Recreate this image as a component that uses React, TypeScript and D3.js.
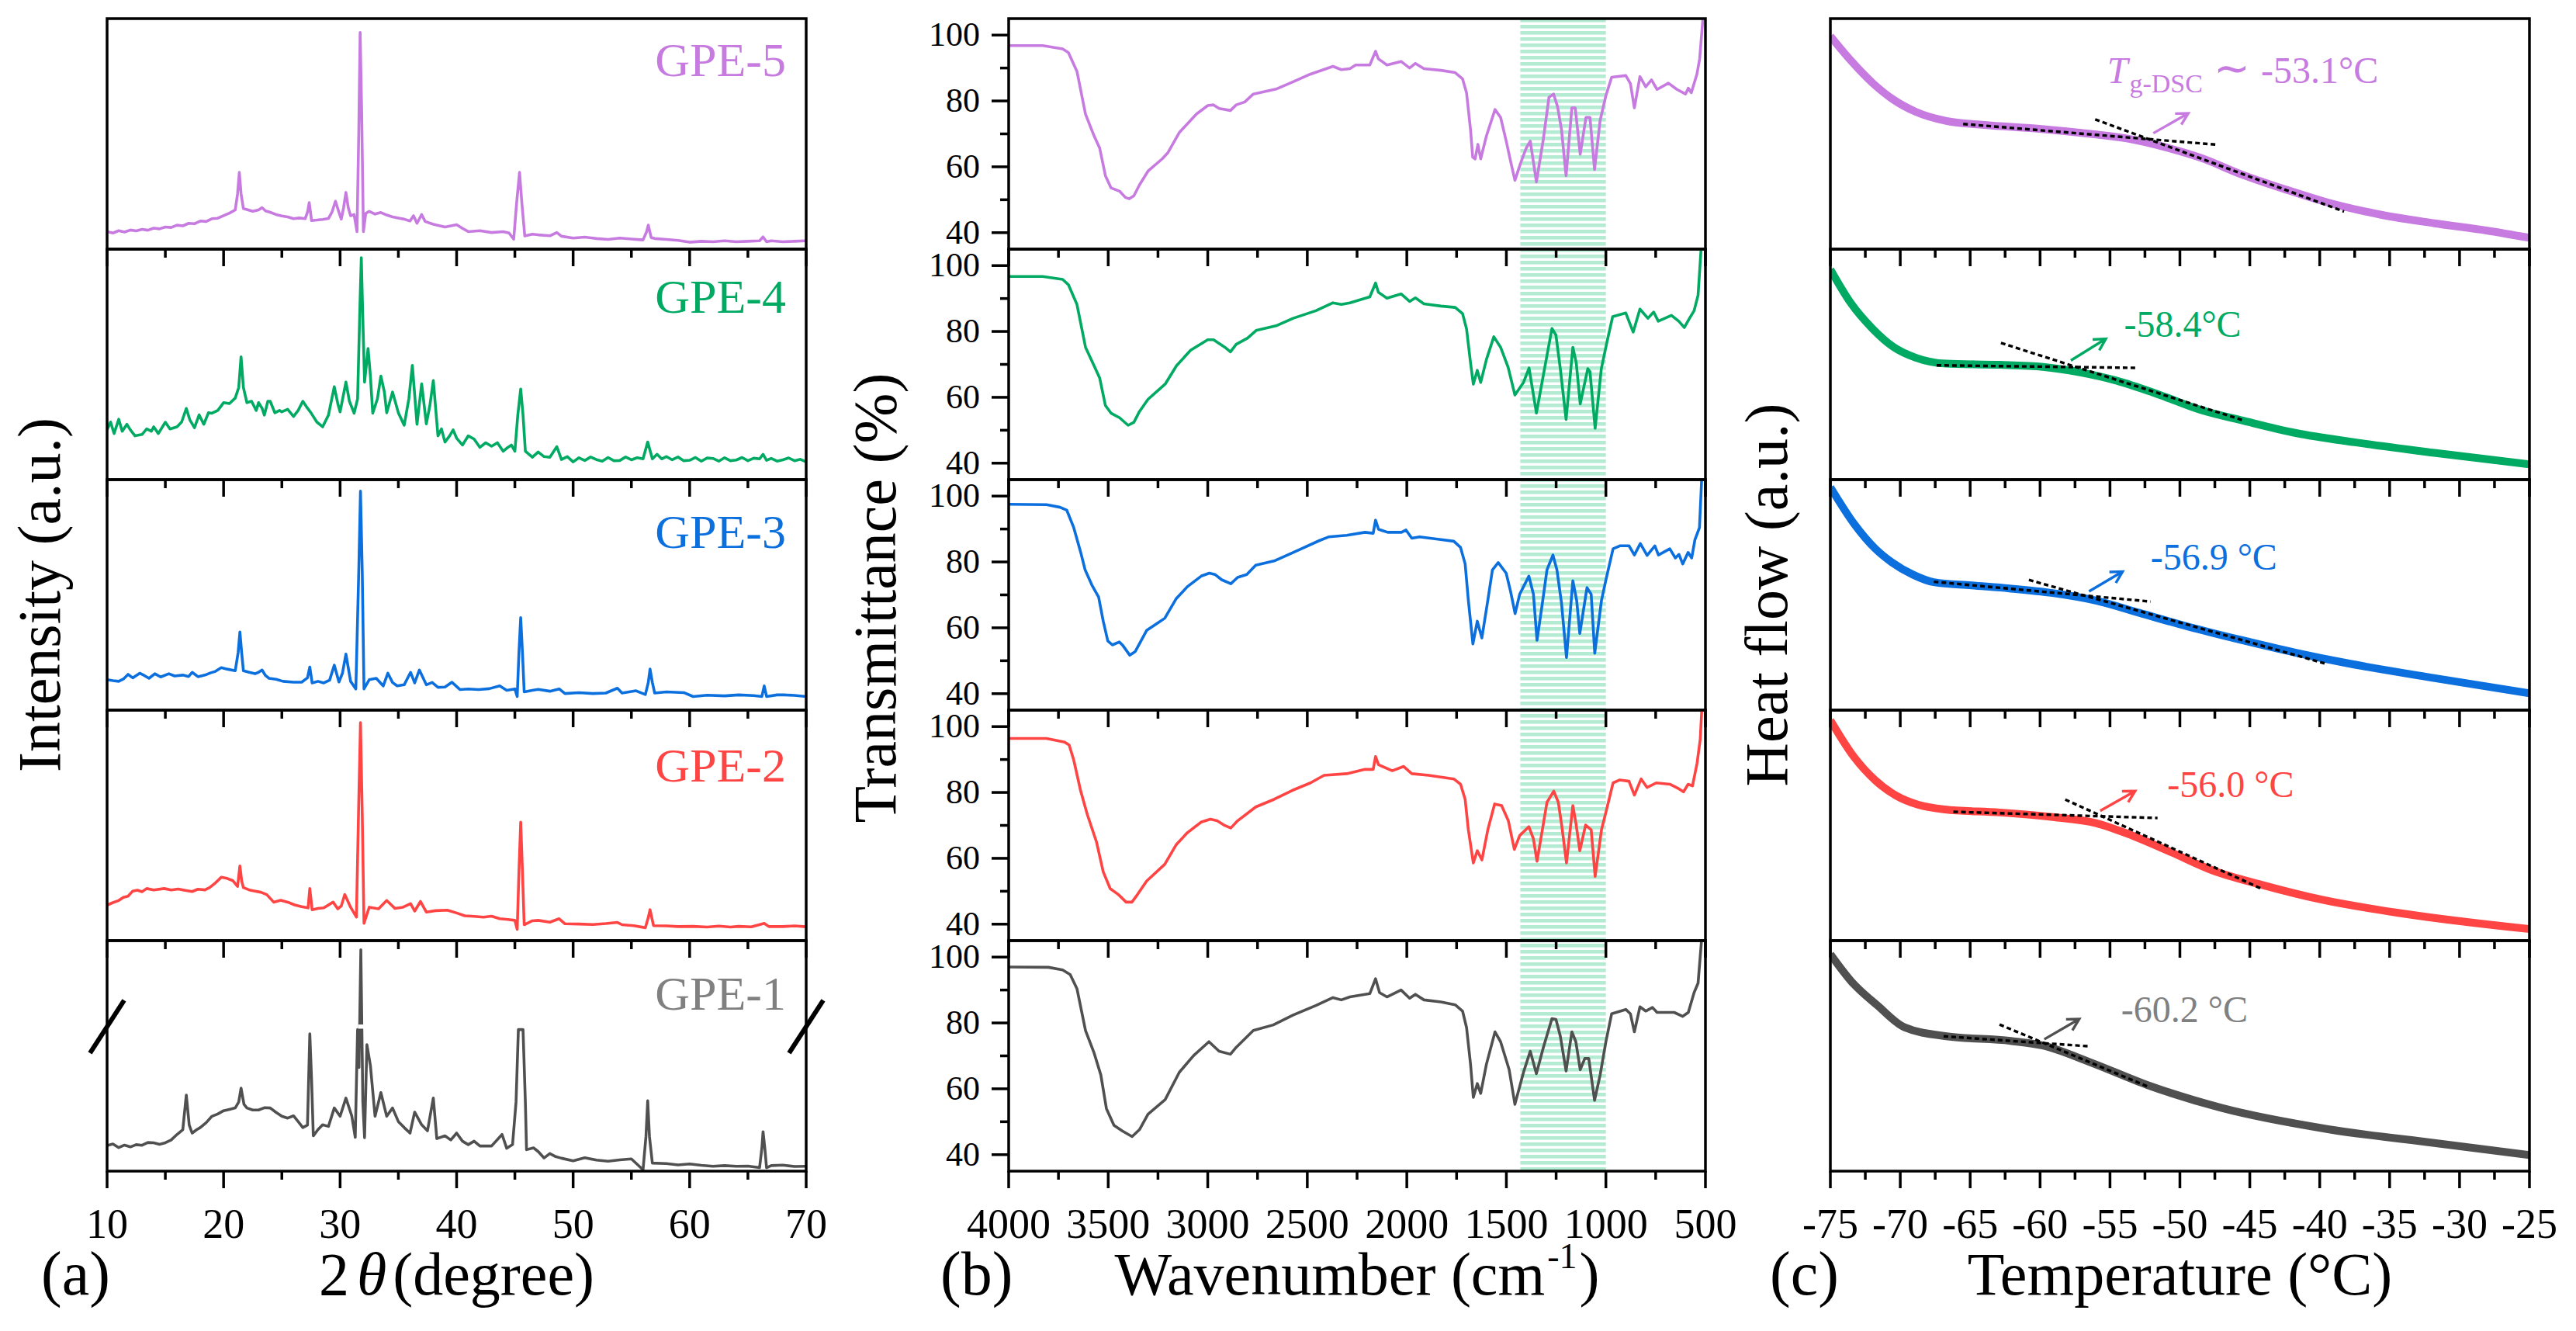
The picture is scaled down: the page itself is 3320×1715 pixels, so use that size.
import React from "react";
import * as d3 from "d3";

type Pt = [number, number];

// samples, top panel to bottom panel
const samples = ["GPE-5", "GPE-4", "GPE-3", "GPE-2", "GPE-1"];
const lineColors = ["#c77be0", "#00aa63", "#0b6fde", "#ff4444", "#505050"];
const textColors = ["#c77be0", "#00aa63", "#0b6fde", "#ff4444", "#808080"];

// ---------- (a) XRD, intensity in % of panel height ----------
const xrdGPE5: Pt[] = [[10,7.6],[10.5,7.0],[11,8.0],[11.5,7.4],[12,8.3],[12.5,7.9],[13,8.6],[13.5,8.2],[14,9.1],[14.5,8.8],[15,9.6],[15.5,9.4],[16,10.4],[16.5,10.1],[17,11.2],[17.5,11.0],[18,12.2],[18.5,12.0],[19,13.2],[19.5,13.4],[20,14.5],[20.5,15.6],[21,17.0],[21.2,24],[21.35,33.3],[21.5,24],[21.7,17.6],[22,17.2],[22.5,16.4],[23,17.0],[23.3,18.0],[23.6,16.6],[24,16.0],[24.5,15.0],[25,14.4],[25.5,14.0],[26,13.2],[26.5,13.5],[27,13.2],[27.2,16],[27.35,20.2],[27.55,12.4],[28,12.6],[28.5,12.9],[29,13.3],[29.3,16],[29.6,20.8],[29.9,16],[30.1,13],[30.3,18],[30.5,24.6],[30.7,18],[30.9,14.5],[31.2,15],[31.45,7.6],[31.6,50],[31.72,94],[31.85,60],[32.0,7.6],[32.2,15.5],[32.5,16.4],[33,15.2],[33.5,15.9],[34,14.8],[34.5,14.0],[35,13.5],[35.5,13.0],[36,12.2],[36.3,14.5],[36.6,11.2],[37,15.0],[37.3,12],[38,10.8],[38.5,10.2],[39,9.6],[39.6,10.2],[40,10.6],[40.5,9.0],[41,7.6],[42,8.0],[43,7.2],[44,7.6],[44.5,7.0],[44.9,4.3],[45.15,20],[45.4,33.3],[45.6,20],[45.85,5.7],[46.5,6.5],[47,6.2],[48,5.8],[48.6,7.2],[49,5.6],[50,4.8],[51,5.2],[52,4.6],[53,4.2],[54,4.8],[55,4.4],[56,4.0],[56.3,7.5],[56.45,10.4],[56.7,5],[57,4.6],[58,4.2],[59,3.8],[60,3.0],[61,3.4],[62,3.2],[63,3.6],[64,3.2],[65,3.4],[66,3.6],[66.3,5.3],[66.6,3.2],[67,3.6],[68,3.2],[69,3.4],[70,3.6]];
const xrdGPE4: Pt[] = [[10,21.6],[10.3,25],[10.6,20],[11,26.2],[11.3,21],[11.7,24],[12,21.6],[12.4,19],[13,19.6],[13.4,22],[13.8,21],[14,22.9],[14.4,20],[15,24.9],[15.4,22],[16,22.9],[16.4,25],[16.8,30.9],[17.1,26],[17.5,22.5],[17.9,28.1],[18.3,24],[18.7,29],[19,28.8],[19.5,30],[20,33.4],[20.5,33],[21,35.4],[21.3,40],[21.5,53.3],[21.7,40],[22,33.4],[22.4,34],[22.8,30],[23,33.4],[23.3,31],[23.5,28],[23.8,34],[24,34],[24.4,29],[24.8,30],[25,29.4],[25.5,30.5],[26,27.4],[26.4,30],[26.8,34],[27.2,31],[27.5,29],[28,25],[28.5,22.9],[29,28],[29.5,40.3],[29.8,33],[30.0,29.4],[30.5,42.3],[30.8,34],[31.2,28.8],[31.5,35],[31.7,75],[31.82,96.3],[31.95,70],[32.1,42.3],[32.4,56.9],[32.6,45],[32.8,28.8],[33.2,35],[33.5,44.9],[33.8,38],[34,29],[34.5,38],[35,29],[35.5,23.6],[35.9,35],[36.2,49.6],[36.6,24],[37,41.6],[37.4,24.2],[37.7,32],[38,43],[38.4,19],[38.7,22],[39,16.3],[39.4,19],[39.7,21.6],[40,18],[40.5,15],[41,19],[41.5,17.6],[42,14],[42.5,16],[43,14.5],[43.5,16],[44,12.3],[44.4,14],[44.7,15],[45.0,12.3],[45.25,28],[45.5,39.3],[45.7,28],[45.9,12.3],[46.5,9.7],[47,12],[47.5,10],[48,9.7],[48.6,14.3],[49,8.7],[49.5,10],[50,7.7],[50.5,9.5],[51,8.3],[51.5,9.8],[52,8.7],[52.5,8],[53,9.6],[53.5,8.2],[54,8.3],[54.5,9.8],[55,8.6],[55.5,9.5],[56,9],[56.4,16.3],[56.8,9],[57.2,11],[57.6,9],[58,10],[58.5,8.6],[59,9.8],[59.5,8.2],[60,8.4],[60.5,9.6],[61,8],[61.5,9.4],[62,9.2],[62.5,8],[63,9.5],[63.5,8.2],[64,8.5],[64.5,9.6],[65,8.2],[65.5,9.3],[66,9],[66.3,11],[66.6,8.4],[67,9.2],[67.5,8],[68,8.6],[68.5,9.4],[69,8.2],[69.5,8.8],[70,7.7]];
const xrdGPE3: Pt[] = [[10,13.2],[10.5,12.8],[11,12.5],[11.4,13.5],[11.8,15.5],[12.2,14],[12.8,16],[13.2,15],[13.6,13.8],[14.1,15.8],[14.6,14.4],[15.3,15.8],[15.8,14.8],[16.5,15.2],[17,14.6],[17.3,16.4],[17.8,14.5],[18.4,15.2],[18.9,16.2],[19.3,16.8],[19.8,18.4],[20.3,17.8],[21,17.1],[21.25,25],[21.4,33.9],[21.55,25],[21.7,17.1],[22.2,16.4],[22.7,15.8],[23,16.4],[23.3,17.4],[23.6,15],[23.9,13.8],[24.5,13.4],[25.1,12.5],[26,12.1],[26.7,12.1],[27.2,14],[27.4,18.7],[27.6,11.8],[28.1,12.5],[28.6,11.8],[29.1,13],[29.5,19.5],[29.9,12.2],[30.2,16],[30.5,24.3],[30.9,12.5],[31.35,9.2],[31.6,60],[31.75,95],[31.9,60],[32.05,9.2],[32.5,13.2],[33.1,13.8],[33.7,10.5],[34.1,16],[34.5,12],[34.9,10.5],[35.5,11],[36.05,16.4],[36.4,11.8],[36.8,17.4],[37.4,11],[37.9,12],[38.4,9.9],[39,10],[39.6,12.1],[40.3,8.9],[41,9.2],[41.9,8.9],[42.8,9.3],[43.7,10.5],[44.3,8.6],[45.0,9.2],[45.2,5.9],[45.35,25],[45.5,40.1],[45.65,25],[45.8,7.9],[46.5,8.6],[47,9],[48,8.2],[48.8,9.2],[49.3,7.2],[50.5,7.6],[51.7,7.2],[52.8,7.4],[53.8,9.5],[54.2,7.4],[55.4,8.4],[56.2,6.8],[56.45,12],[56.6,17.8],[56.8,12],[57,7.4],[58,7.9],[59.5,7.6],[60.3,5.9],[61.5,6.5],[63,6.2],[64.2,6.6],[65.5,6.3],[66.2,5.9],[66.4,10.5],[66.6,5.9],[67.5,6.6],[68.1,6.6],[69,6.4],[70,5.9]];
const xrdGPE2: Pt[] = [[10,15.4],[10.5,16.5],[11,17.4],[11.4,18.8],[11.8,19.3],[12.2,21.5],[12.6,21.9],[13,21.2],[13.4,22.6],[14,22],[14.9,22.6],[15.5,22],[16.1,22.4],[16.7,21.8],[17.3,21.3],[17.8,22.3],[18.4,22],[18.8,23],[19.2,24.6],[19.8,27.5],[20.3,27],[20.8,26],[21.2,23.5],[21.3,28],[21.4,32.4],[21.55,26],[21.7,23],[22.2,22],[22.7,21.5],[23.2,21],[23.7,20],[24.3,16.7],[24.9,17.5],[25.5,16.7],[26.1,15.5],[26.7,14.7],[27.25,14.2],[27.4,22.6],[27.6,13.4],[28.1,14],[28.6,14.2],[29.4,16.7],[29.8,13.8],[30.1,15],[30.4,20],[30.9,14.5],[31.4,10.2],[31.6,60],[31.75,94.6],[31.9,55],[32.05,7.5],[32.5,14.5],[33.3,13.8],[34,17.4],[34.7,14],[35.4,14.5],[36.05,16],[36.4,12.8],[36.9,17],[37.4,12.4],[38.2,13],[39.2,13.2],[40.0,12],[40.7,10.8],[41.5,10.5],[42.3,10.2],[43,10.6],[43.7,9.5],[44.4,9.2],[45,8.8],[45.2,4.9],[45.35,30],[45.5,51.4],[45.65,30],[45.8,6.9],[46.5,8.6],[47,8.8],[48,8],[48.8,9.5],[49.3,7.3],[50.5,7.2],[51.7,7],[52.8,7.4],[53.8,7.9],[54.2,6.9],[55.2,6.5],[56.2,5.6],[56.45,10],[56.6,13.4],[56.9,6.5],[58,6.4],[59,6.1],[60.3,6.2],[61.5,5.9],[62.5,6.3],[63.5,5.9],[64.2,6.2],[65.3,6],[66.4,7.5],[66.8,6.1],[68,6.1],[69,6.4],[70,6]];
const xrdGPE1: Pt[] = [[10,11.1],[10.5,11.8],[11,10.2],[11.5,11.3],[12,10.5],[12.5,11.5],[13,11.2],[13.5,12.4],[14,12.3],[14.5,11.6],[15,12.3],[15.5,13.5],[16,15.9],[16.5,18],[16.8,33],[17.05,20],[17.3,16.5],[17.7,18],[18,18.9],[18.5,21],[19,23.8],[19.5,24.8],[20,26.2],[20.5,26.8],[21,27.4],[21.3,30],[21.5,36],[21.75,29],[22,27.4],[22.5,26.5],[23,26.5],[23.5,27.5],[24,27.4],[24.5,25.5],[25,23.8],[25.5,23],[26,24],[26.4,21.5],[26.8,18.9],[27.2,20],[27.4,59.6],[27.55,40],[27.7,15.3],[28.1,18],[28.5,20.1],[29,19.4],[29.5,27.4],[30,23.8],[30.5,31.7],[31,24],[31.3,14.7],[31.5,61.4],[31.62,45],[31.78,96],[31.95,30],[32.1,14.5],[32.3,54.9],[32.6,45.8],[33,23.8],[33.5,34.1],[34,23.8],[34.5,27.4],[35,21.5],[35.5,18.9],[36,16.5],[36.4,25.6],[37,20.1],[37.5,17.5],[38,31.7],[38.3,14.1],[39,15.3],[39.5,13.5],[40,16.5],[40.5,13],[41,11.5],[41.5,13],[42,10.9],[43,10.9],[43.9,15.9],[44.3,9.9],[44.8,11.5],[45.1,30],[45.3,61.4],[45.7,61.4],[45.9,30],[46,9.3],[46.6,10.1],[47,8.5],[47.5,5.7],[48,7.6],[48.5,6.3],[49,5.6],[50,4.5],[51,5.8],[52,4.8],[53,4.3],[54,4.9],[55,5.3],[56,0.6],[56.25,15],[56.4,30.5],[56.55,15],[56.8,3.5],[58,3.3],[59,2.7],[60,3.1],[61,2.5],[62,2.1],[63,2.4],[64,2.1],[65,2.2],[66,1.5],[66.2,10],[66.3,17.1],[66.45,10],[66.6,1.5],[67,2.4],[68,2.6],[69,2.0],[70,2.1]];
const xrdSeries = [xrdGPE5, xrdGPE4, xrdGPE3, xrdGPE2, xrdGPE1];
const xrdTicks = [10, 20, 30, 40, 50, 60, 70];
const xrdBreak = 62.7; // axis break level in the GPE-1 panel

// ---------- (b) FTIR, transmittance (%) ----------
const ftirGPE5: Pt[] = [[4000,96.8],[3829,96.8],[3729,95.8],[3700,94.7],[3657,89],[3614,76],[3571,69.4],[3543,65.7],[3514,57.3],[3486,53.6],[3443,52.6],[3414,50.7],[3394,50.3],[3371,51.2],[3343,54.5],[3300,58.7],[3229,62.4],[3200,64.3],[3143,70.4],[3057,76],[3000,78.6],[2971,78.8],[2943,77.7],[2886,77.1],[2857,78.8],[2814,79.7],[2771,82.1],[2657,83.6],[2571,85.8],[2486,88.1],[2371,90.5],[2329,89.5],[2286,89.8],[2257,90.9],[2186,90.9],[2157,95.1],[2143,92.8],[2100,90.9],[2029,92],[1986,90],[1957,91.4],[1914,89.8],[1829,89.3],[1757,88.6],[1720,86.7],[1700,82.5],[1680,71.3],[1669,62.9],[1657,62.4],[1643,66.8],[1629,62.4],[1600,69.4],[1557,77.4],[1529,75],[1500,67.6],[1480,62],[1457,55.9],[1429,61],[1400,65.7],[1380,67.8],[1349,55.4],[1314,68.5],[1286,81.1],[1263,82.1],[1243,78.3],[1223,71.3],[1200,57.3],[1171,77.9],[1154,77.9],[1129,63.8],[1100,75],[1080,75],[1057,59.2],[1029,74.1],[1000,81.6],[971,87.2],[900,87.7],[877,85.3],[857,77.9],[829,87.4],[800,84.3],[771,86.4],[743,83.5],[686,85.4],[643,83.5],[600,82.1],[586,83.9],[571,82.5],[543,88.1],[529,92.8],[514,104],[505,112]];
const ftirGPE4: Pt[] = [[4000,96.7],[3829,96.7],[3729,95.8],[3700,94.2],[3657,88.2],[3614,75.2],[3571,69.6],[3543,65.9],[3514,57.5],[3486,55.2],[3443,53.8],[3400,51.5],[3371,52.4],[3343,55.7],[3300,59.4],[3214,64],[3157,69.6],[3086,74.3],[3000,77.5],[2971,77.5],[2914,75.2],[2886,73.8],[2857,76.1],[2800,78],[2757,80.3],[2657,81.7],[2571,84],[2457,86.3],[2371,88.7],[2329,88.2],[2286,88.7],[2186,90.5],[2157,94.7],[2143,91.9],[2100,90.1],[2029,91.4],[1986,89.1],[1957,90.2],[1914,88.4],[1829,87.7],[1757,87.3],[1720,85.4],[1700,80.8],[1680,70.5],[1666,64],[1646,68.2],[1629,64.5],[1600,71.5],[1563,78.4],[1529,75.2],[1491,69.1],[1457,60.7],[1414,64.5],[1386,68.9],[1349,55.2],[1314,66.8],[1271,80.9],[1251,78.9],[1229,68.7],[1200,53.3],[1166,75.2],[1149,70.5],[1129,58],[1091,68.7],[1080,67.8],[1054,50.6],[1023,68.7],[994,77],[966,84.5],[900,85.6],[863,79.8],[829,86.8],[789,84],[760,85.9],[737,83.1],[671,84.9],[634,83.1],[606,81.2],[580,84],[557,86.3],[537,91],[523,104],[515,112]];
const ftirGPE3: Pt[] = [[4000,97.5],[3810,97.4],[3742,96.6],[3708,95.7],[3673,90.4],[3639,83.1],[3616,77.6],[3582,73],[3548,69.3],[3525,62],[3502,56],[3479,54.8],[3444,55.7],[3426,54.6],[3392,51.7],[3364,52.8],[3307,59.2],[3250,61.5],[3216,62.9],[3159,68.8],[3102,72.5],[3033,75.7],[2992,76.6],[2964,76.2],[2930,74.6],[2884,73.4],[2850,75.3],[2804,76.2],[2759,79],[2667,80.3],[2599,82.1],[2530,84],[2439,86.5],[2393,87.6],[2302,88.1],[2210,89],[2169,88.7],[2157,92.7],[2142,89.9],[2096,89],[2027,89],[2004,89.7],[1975,87.2],[1936,87.6],[1844,86.9],[1764,86.3],[1730,84.4],[1707,79.4],[1691,68.4],[1668,55.1],[1646,62],[1623,56.9],[1593,68.4],[1570,77.6],[1541,79.8],[1501,76.6],[1479,71.1],[1456,64.3],[1433,70.2],[1387,75.7],[1364,70.2],[1346,56.2],[1319,67.5],[1296,77.6],[1266,82.1],[1246,77.6],[1223,67.5],[1198,51],[1166,74.3],[1147,68.4],[1131,58.3],[1095,72.2],[1074,70.2],[1056,52.3],[1022,68.4],[999,74.8],[964,84],[930,84.9],[884,84.9],[857,82.1],[827,85.6],[793,82],[754,84.9],[736,82.1],[679,84],[651,81.2],[633,82.3],[614,79.4],[587,82.9],[569,81.2],[553,86.7],[530,90.4],[519,105],[512,112]];
const ftirGPE2: Pt[] = [[4000,96.4],[3810,96.4],[3719,95.3],[3696,94.4],[3673,89.8],[3639,80.6],[3605,73.3],[3559,65],[3525,55.9],[3490,50.8],[3449,49],[3410,46.7],[3381,46.7],[3353,49],[3307,53.1],[3216,58.2],[3159,64.1],[3102,67.8],[3033,71],[2987,71.9],[2953,71.4],[2919,70.1],[2884,69.2],[2850,71.4],[2759,75.6],[2667,77.9],[2576,80.6],[2484,82.9],[2416,85.2],[2302,85.7],[2210,87.0],[2169,87],[2157,90.9],[2142,88.4],[2073,86.6],[2016,87.9],[1975,85.7],[1890,85.2],[1764,84.1],[1730,82.5],[1707,77.9],[1691,68.7],[1666,58.6],[1646,62.3],[1623,59.5],[1593,68.7],[1559,76.5],[1524,76],[1490,71.4],[1460,62.7],[1433,66.9],[1387,69.6],[1364,65.9],[1346,59.1],[1319,68.7],[1296,77],[1262,80.4],[1239,77],[1221,69.6],[1198,58.6],[1166,76],[1150,70.5],[1131,62.3],[1102,70.1],[1074,68.7],[1054,54.5],[1022,68.7],[999,74.2],[964,82.9],[930,83.8],[884,83.4],[857,79.2],[823,84.1],[793,81.5],[747,82.9],[679,82.5],[633,81.1],[610,80.2],[587,82.5],[565,82],[542,88.9],[526,96.2],[519,104.5],[512,112]];
const ftirGPE1: Pt[] = [[4000,97],[3800,96.9],[3729,96.1],[3691,94.7],[3657,90.4],[3614,77.7],[3571,70.9],[3537,64.2],[3509,54],[3471,48.9],[3429,47.2],[3380,45.5],[3343,47.6],[3300,52.3],[3214,56.7],[3143,65],[3071,70.1],[2994,74.3],[2943,71.4],[2886,70.5],[2857,72.6],[2771,77.7],[2671,79.4],[2571,82.4],[2457,85.3],[2371,87.7],[2329,87],[2286,87.9],[2186,88.9],[2157,93.4],[2137,89.2],[2100,87.9],[2029,90],[1986,87.5],[1957,88.7],[1914,87],[1829,86.4],[1757,85.5],[1720,83.6],[1700,78.6],[1680,67.5],[1666,57.4],[1646,61.6],[1629,58.6],[1600,67.5],[1557,77.3],[1529,74.3],[1486,65.8],[1457,55.3],[1414,65],[1380,71.4],[1349,64.6],[1314,72.6],[1271,81.3],[1251,81.1],[1229,76],[1200,65.4],[1171,77.3],[1151,74.3],[1129,65.8],[1106,69.2],[1086,69.2],[1057,56.5],[1029,64.2],[1000,74.3],[971,82.8],[900,84.1],[877,82.8],[857,77.3],[829,84.9],[800,83.6],[766,84.7],[743,83.2],[657,83.2],[614,82],[586,83.2],[557,89.2],[537,92.1],[520,104.8],[512,112]];
const ftirSeries = [ftirGPE5, ftirGPE4, ftirGPE3, ftirGPE2, ftirGPE1];
const ftirTicks = [4000, 3500, 3000, 2500, 2000, 1500, 1000, 500];
const ftirYTicks = [40, 60, 80, 100];
const ftirBand: [number, number] = [1430, 1000];

// ---------- (c) DSC, heat flow in % of panel height ----------
const dscGPE5: Pt[] = [[-75,92.4],[-73.5,81.6],[-72,72.2],[-70.5,64.9],[-68.9,59.6],[-66.7,55.6],[-64,53.9],[-60.2,52.3],[-56.4,50],[-53.8,48],[-51.1,44.3],[-48.5,39.6],[-45.5,32.2],[-42.4,25.8],[-39.4,20.2],[-35.6,14.9],[-31.8,11.2],[-28,8],[-25,4.9]];
const dscGPE4: Pt[] = [[-75,91.2],[-73.5,76.3],[-72,65.6],[-70.5,57.6],[-68.9,52.9],[-66.7,50.3],[-62.9,49.8],[-59.8,48.9],[-57.2,46.6],[-54.5,42.9],[-51.5,36.9],[-48.5,30.2],[-45.5,25.6],[-41.7,20.2],[-37.5,16.2],[-31.8,11.6],[-25,6.6]];
const dscGPE3: Pt[] = [[-75,96.7],[-73.3,80.8],[-71.8,70.1],[-70.6,64.1],[-69.1,58.8],[-67.6,55.5],[-64.9,54.1],[-62.2,52.8],[-59.1,50.8],[-56,47.5],[-52.9,42.2],[-49.4,36.2],[-45.6,30.4],[-41.7,24.9],[-37.9,20.2],[-32.1,14.2],[-25,7.3]];
const dscGPE2: Pt[] = [[-75,95.6],[-73.3,79.6],[-71.8,69.6],[-70.3,62.9],[-68.7,58.9],[-66.8,56.9],[-62.9,55.6],[-59.1,53.6],[-56,51],[-53.7,46.3],[-50.6,38.3],[-47.6,30.3],[-44.2,24.3],[-39.8,17.7],[-34,11.7],[-25,5]];
const dscGPE1: Pt[] = [[-75,94.1],[-73.5,82.3],[-71.6,71.7],[-69.7,62.4],[-66.7,58.5],[-62.1,56.5],[-59.8,54.5],[-56.4,47.2],[-52.3,37.3],[-47,27.4],[-39.4,18.2],[-31.8,12.2],[-25,7]];
const dscSeries = [dscGPE5, dscGPE4, dscGPE3, dscGPE2, dscGPE1];
const dscTicks = [-75, -70, -65, -60, -55, -50, -45, -40, -35, -30, -25];

// onset construction: two tangents + arrow + label anchor (data units)
const plateauTangents: [Pt, Pt][] = [[[-65.5,54.3],[-47.35,45.3]],[[-67.4,49.6],[-53.2,48.5]],[[-67.6,55.7],[-52.1,47.1]],[[-66.2,55.9],[-51.6,53.2]],[[-66.9,58.5],[-56.6,54.2]]];
const slopeTangents: [Pt, Pt][] = [[[-56.06,56.3],[-38.26,16.3]],[[-62.8,59.3],[-45.45,25.7]],[[-60.8,56.5],[-39.6,20.2]],[[-58.2,61.2],[-44.2,22.6]],[[-62.9,63.6],[-52.3,36.7]]];
const tgArrows: [Pt, Pt][] = [[[-51.9,50.3],[-49.4,58.9]],[[-57.8,51.7],[-55.3,61.1]],[[-56.5,51.5],[-54.1,60.1]],[[-55.7,56.3],[-53.2,64.9]],[[-59.7,57.2],[-57.2,66]]];
const tgLabelAt: Pt[] = [[-55.2,72.2],[-54,62.1],[-52.1,60.8],[-50.9,62.2],[-54.2,64.8]];
const tgValues = ["-53.1°C", "-58.4°C", "-56.9 °C", "-56.0 °C", "-60.2 °C"];

// ---------- layout ----------
const W = 3320;
const H = 1715;
const top0 = 24;
const panelH = 297;
const colA: [number, number] = [138, 1039];
const colB: [number, number] = [1300, 2198];
const colC: [number, number] = [2359, 3260];
const tickBaseline = 1595;
const titleBaseline = 1668;
const serif = "'Liberation Serif', 'Times New Roman', Times, serif";
const AXW = 3.5;
const labelOffsets = [74, 82, 88, 92, 89];

const panelY = (i: number) =>
  d3.scaleLinear().domain([0, 100]).range([top0 + (i + 1) * panelH, top0 + i * panelH]);
const ftirY = (i: number) =>
  d3.scaleLinear().domain([35, 105]).range([top0 + (i + 1) * panelH, top0 + i * panelH]);

const xA = d3.scaleLinear().domain([10, 70]).range(colA);
const xB = d3.scaleLinear().domain([4000, 500]).range(colB);
const xC = d3.scaleLinear().domain([-75, -25]).range(colC);

const between = (a: number[], step: number) =>
  d3.range(a[0], a[a.length - 1] + step / 2, step);

function BottomTicks({ x, major, minorStep, y }: { x: d3.ScaleLinear<number, number>; major: number[]; minorStep: number; y: number }) {
  const minors = between(major, minorStep).filter((v) => !major.some((m) => Math.abs(m - v) < 1e-6));
  return (
    <g stroke="#000" strokeWidth={AXW}>
      {major.map((v) => (
        <line key={"M" + v} x1={x(v)} x2={x(v)} y1={y} y2={y + 22} />
      ))}
      {minors.map((v) => (
        <line key={"m" + v} x1={x(v)} x2={x(v)} y1={y} y2={y + 11} />
      ))}
    </g>
  );
}

function arrowPath(x1: number, y1: number, x2: number, y2: number) {
  const a = Math.atan2(y2 - y1, x2 - x1);
  const L = 17;
  const s = 0.5;
  return `M${x1},${y1}L${x2},${y2}M${x2 - L * Math.cos(a - s)},${y2 - L * Math.sin(a - s)}L${x2},${y2}L${x2 - L * Math.cos(a + s)},${y2 - L * Math.sin(a + s)}`;
}

export default function App() {
  const line = d3.line<Pt>();
  const smooth = d3.line<Pt>().curve(d3.curveMonotoneX);

  return (
    <svg
      width={W}
      height={H}
      viewBox={`0 0 ${W} ${H}`}
      style={{ position: "absolute", left: 0, top: 0, background: "#fff", fontFamily: serif }}
    >
      <defs>
        <pattern id="band" width={12} height={8} patternUnits="userSpaceOnUse" y={top0}>
          <rect x={0} y={0} width={12} height={4.6} fill="#b3ecd2" />
        </pattern>
        {samples.map((_, i) => (
          <React.Fragment key={i}>
            {[colA, colB, colC].map((c, k) => (
              <clipPath id={`clip${k}-${i}`} key={k}>
                <rect x={c[0]} y={top0 + i * panelH} width={c[1] - c[0]} height={panelH} />
              </clipPath>
            ))}
          </React.Fragment>
        ))}
      </defs>
      <rect width={W} height={H} fill="#fff" />

      {/* ===== (a) XRD ===== */}
      {xrdSeries.map((s, i) => {
        const y = panelY(i);
        const path = line.x((d) => xA(d[0])).y((d) => y(d[1]))(s) || "";
        return (
          <g key={"a" + i}>
            <path d={path} fill="none" stroke={lineColors[i]} strokeWidth={3.6} strokeLinejoin="round" clipPath={`url(#clip0-${i})`} />
            <text x={1013} y={top0 + i * panelH + labelOffsets[i]} textAnchor="end" fontSize={62} fill={textColors[i]}>
              {samples[i]}
            </text>
          </g>
        );
      })}
      {/* gap of the broken GPE-1 reflection */}
      <rect
        x={xA(31.55)}
        y={panelY(4)(xrdBreak + 0.9)}
        width={xA(32.05) - xA(31.55)}
        height={panelY(4)(xrdBreak - 0.9) - panelY(4)(xrdBreak + 0.9)}
        fill="#fff"
      />
      {samples.map((_, i) => (
        <g key={"af" + i}>
          <rect x={colA[0]} y={top0 + i * panelH} width={colA[1] - colA[0]} height={panelH} fill="none" stroke="#000" strokeWidth={AXW} />
          <BottomTicks x={xA} major={xrdTicks} minorStep={5} y={top0 + (i + 1) * panelH} />
        </g>
      ))}
      {[colA[0], colA[1]].map((bx) => {
        const by = panelY(4)(xrdBreak);
        return <line key={"br" + bx} x1={bx - 22} y1={by + 34} x2={bx + 22} y2={by - 34} stroke="#000" strokeWidth={6} />;
      })}
      {xrdTicks.map((t) => (
        <text key={"at" + t} x={xA(t)} y={tickBaseline} textAnchor="middle" fontSize={54}>
          {t}
        </text>
      ))}
      <text x={53} y={titleBaseline} fontSize={80}>(a)</text>
      <text x={(colA[0] + colA[1]) / 2} y={titleBaseline} textAnchor="middle" fontSize={78}>
        2<tspan fontStyle="italic" dx={10}>θ</tspan>
        <tspan dx={8}>(degree)</tspan>
      </text>
      <text transform={`translate(77, ${top0 + 2.5 * panelH}) rotate(-90)`} textAnchor="middle" fontSize={78}>
        Intensity (a.u.)
      </text>

      {/* ===== (b) FTIR ===== */}
      <rect
        x={xB(ftirBand[0])}
        y={top0}
        width={xB(ftirBand[1]) - xB(ftirBand[0])}
        height={5 * panelH}
        fill="url(#band)"
      />
      {ftirSeries.map((s, i) => {
        const y = ftirY(i);
        const path = line.x((d) => xB(d[0])).y((d) => y(d[1]))(s) || "";
        return (
          <g key={"b" + i}>
            <path d={path} fill="none" stroke={lineColors[i]} strokeWidth={3.6} strokeLinejoin="round" clipPath={`url(#clip1-${i})`} />
            <rect x={colB[0]} y={top0 + i * panelH} width={colB[1] - colB[0]} height={panelH} fill="none" stroke="#000" strokeWidth={AXW} />
            <BottomTicks x={xB} major={ftirTicks} minorStep={-250} y={top0 + (i + 1) * panelH} />
            <g stroke="#000" strokeWidth={AXW}>
              {d3.range(40, 101, 10).map((v) => (
                <line key={v} x1={colB[0]} x2={colB[0] - (v % 20 === 0 ? 22 : 11)} y1={y(v)} y2={y(v)} />
              ))}
            </g>
            {ftirYTicks.map((v) => (
              <text key={"yl" + v} x={colB[0] - 37} y={y(v) + 14} textAnchor="end" fontSize={44}>
                {v}
              </text>
            ))}
          </g>
        );
      })}
      {ftirTicks.map((t) => (
        <text key={"bt" + t} x={xB(t)} y={tickBaseline} textAnchor="middle" fontSize={54}>
          {t}
        </text>
      ))}
      <text x={1212} y={titleBaseline} fontSize={80}>(b)</text>
      <text x={(colB[0] + colB[1]) / 2} y={titleBaseline} textAnchor="middle" fontSize={78}>
        Wavenumber (cm<tspan fontSize={46} dx={3} dy={-34}>-1</tspan>
        <tspan dx={3} dy={34}>)</tspan>
      </text>
      <text transform={`translate(1154, ${top0 + 2.5 * panelH + 4}) rotate(-90)`} textAnchor="middle" fontSize={78}>
        Transmittance (%)
      </text>

      {/* ===== (c) DSC ===== */}
      {dscSeries.map((s, i) => {
        const y = panelY(i);
        const path = smooth.x((d) => xC(d[0])).y((d) => y(d[1]))(s) || "";
        const seg = (p: [Pt, Pt]) => `M${xC(p[0][0])},${y(p[0][1])}L${xC(p[1][0])},${y(p[1][1])}`;
        const ar = tgArrows[i];
        const [lx, ly] = tgLabelAt[i];
        return (
          <g key={"c" + i}>
            <path d={path} fill="none" stroke={lineColors[i]} strokeWidth={10} clipPath={`url(#clip2-${i})`} />
            <path d={seg(plateauTangents[i])} stroke="#000" strokeWidth={3.4} strokeDasharray="6,4" fill="none" />
            <path d={seg(slopeTangents[i])} stroke="#000" strokeWidth={3.4} strokeDasharray="6,4" fill="none" />
            <path
              d={arrowPath(xC(ar[0][0]), y(ar[0][1]), xC(ar[1][0]), y(ar[1][1]))}
              stroke={lineColors[i]}
              strokeWidth={3.4}
              fill="none"
            />
            {i === 0 ? (
              <text x={xC(lx)} y={y(ly)} fontSize={48} fill={textColors[i]}>
                <tspan fontStyle="italic">T</tspan>
                <tspan fontSize={34} dy={12} dx={2}>g-DSC</tspan>
                <tspan dy={-12} dx={14} fontSize={56}>∼</tspan>
                <tspan dx={14}>{tgValues[i]}</tspan>
              </text>
            ) : (
              <text x={xC(lx)} y={y(ly)} fontSize={48} fill={textColors[i]}>
                {tgValues[i]}
              </text>
            )}
            <rect x={colC[0]} y={top0 + i * panelH} width={colC[1] - colC[0]} height={panelH} fill="none" stroke="#000" strokeWidth={AXW} />
            <BottomTicks x={xC} major={dscTicks} minorStep={2.5} y={top0 + (i + 1) * panelH} />
          </g>
        );
      })}
      {dscTicks.map((t) => (
        <text key={"ct" + t} x={xC(t)} y={tickBaseline} textAnchor="middle" fontSize={54}>
          {t}
        </text>
      ))}
      <text x={2281} y={titleBaseline} fontSize={80}>(c)</text>
      <text x={(colC[0] + colC[1]) / 2} y={titleBaseline} textAnchor="middle" fontSize={78}>
        Temperature (°C)
      </text>
      <text transform={`translate(2303, ${top0 + 2.5 * panelH}) rotate(-90)`} textAnchor="middle" fontSize={78}>
        Heat flow (a.u.)
      </text>
    </svg>
  );
}
